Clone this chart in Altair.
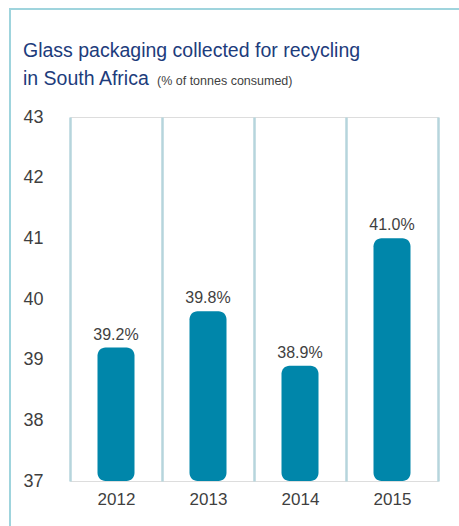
import altair as alt
import pandas as pd

years = ["2012", "2013", "2014", "2015"]
values = [39.2, 39.8, 38.9, 41.0]
labels = ["39.2%", "39.8%", "38.9%", "41.0%"]
y_ticks = [37, 38, 39, 40, 41, 42, 43]

title_line1 = "Glass packaging collected for recycling"
title_line2 = "in South Africa"
subtitle = "(% of tonnes consumed)"

df = pd.DataFrame({"year": years, "value": values, "label": labels})

BAR = "#0086aa"
GRID = "#b6d5dc"
FRAME = "#9fd4dd"
NAVY = "#1d3c7c"
GRAY = "#3f3f3f"
TFONT = "Liberation Sans, sans-serif"
NFONT = "Liberation Sans, sans-serif"

x = alt.X(
    "year:N",
    sort=years,
    title=None,
    scale=alt.Scale(paddingInner=0, paddingOuter=0),
    axis=alt.Axis(
        tickBand="extent",
        grid=True,
        gridColor=GRID,
        gridWidth=2.5,
        ticks=False,
        domain=False,
        labelAngle=0,
        labelPadding=10,
        labelFont=NFONT,
        labelFontSize=17,
        labelColor=GRAY,
    ),
)
y = alt.Y(
    "value:Q",
    title=None,
    scale=alt.Scale(domain=[37, 43], zero=False, nice=False),
    axis=alt.Axis(
        values=y_ticks,
        format="d",
        grid=False,
        ticks=False,
        domain=False,
        labelAlign="left",
        labelPadding=47,
        labelFont=NFONT,
        labelFontSize=18,
        labelColor=GRAY,
    ),
)

base = alt.Chart(df)
bars = base.mark_bar(width=37, cornerRadius=8, color=BAR).encode(
    x=x, y=y, y2=alt.datum(37)
)
texts = base.mark_text(
    baseline="bottom", dy=-5, font=NFONT, fontSize=16, color=GRAY
).encode(x=alt.X("year:N", sort=years), y="value:Q", text="label:N")

title_df = pd.DataFrame({"t1": [title_line1], "t2": [title_line2], "s": [subtitle]})
tbase = alt.Chart(title_df)
t1 = tbase.mark_text(
    align="left", baseline="alphabetic", font=TFONT, fontSize=19.5, color=NAVY
).encode(x=alt.value(-47), y=alt.value(-60), text="t1:N")
t2 = tbase.mark_text(
    align="left", baseline="alphabetic", font=TFONT, fontSize=19.5, color=NAVY
).encode(x=alt.value(-47), y=alt.value(-32), text="t2:N")
st = tbase.mark_text(
    align="left", baseline="alphabetic", font=TFONT, fontSize=12.5, color=GRAY
).encode(x=alt.value(87), y=alt.value(-32), text="s:N")

frame_left = tbase.mark_rule(color=FRAME, strokeWidth=2).encode(
    x=alt.value(-60), y=alt.value(-108), y2=alt.value(500)
)
frame_top = tbase.mark_rule(color=FRAME, strokeWidth=2).encode(
    x=alt.value(-61), x2=alt.value(500), y=alt.value(-108)
)

chart = (
    alt.layer(frame_left, frame_top, bars, texts, t1, t2, st)
    .properties(
        width=368,
        height=364,
        autosize=alt.AutoSizeParams(type="none"),
        padding={"left": 70, "top": 117, "right": 21, "bottom": 45},
    )
    .configure_view(stroke=None)
    .configure(background="white")
)

chart.save("out.html", embed_options={"renderer": "svg", "actions": False})
